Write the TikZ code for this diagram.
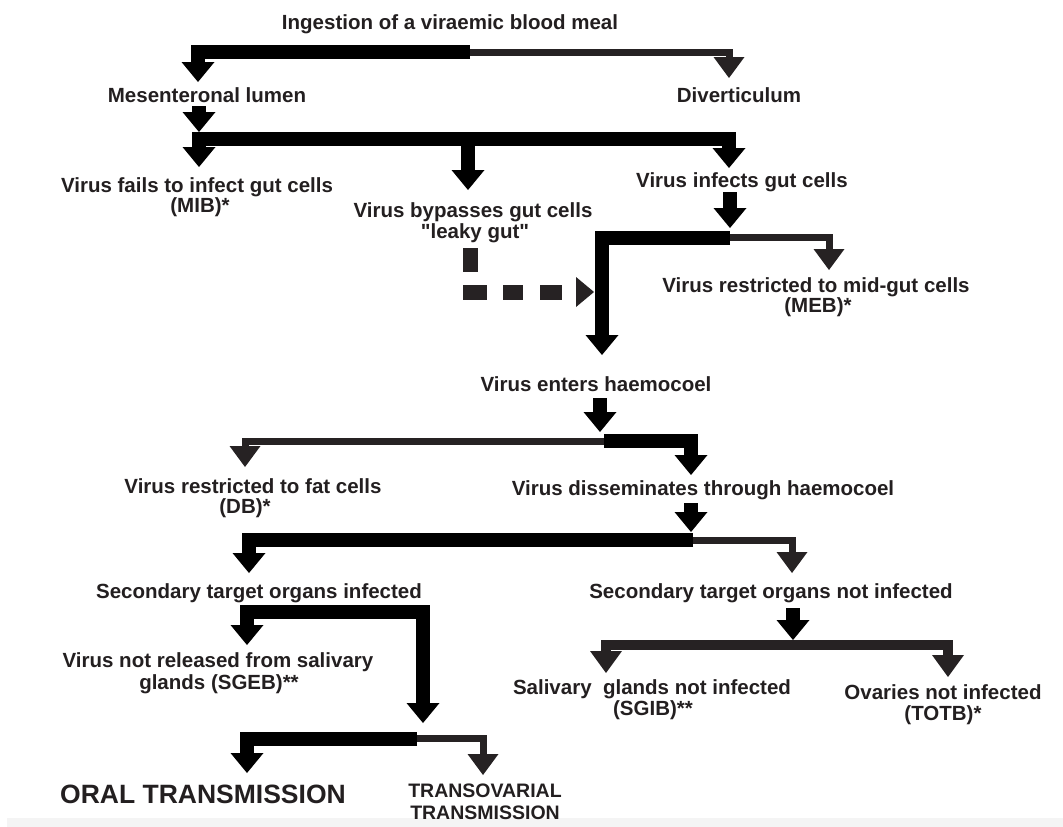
\documentclass[tikz,border=0pt]{standalone}
\usepackage{fontspec}
\setmainfont{Liberation Sans}[Ligatures=TeXOff]
\usetikzlibrary{arrows.meta}
\definecolor{ink}{HTML}{231F20}
\definecolor{dk}{HTML}{262223}
\definecolor{strip}{HTML}{F4F4F4}
\begin{document}
\begin{tikzpicture}[x=1pt,y=-1pt,
  lbl/.style={anchor=base, inner sep=0pt, text=ink, font=\fontsize{20.5}{22}\selectfont\bfseries},
  biglbl/.style={lbl, font=\fontsize{26.5}{28}\selectfont\bfseries},
  caplbl/.style={lbl, font=\fontsize{19.5}{22}\selectfont\bfseries},
  thk/.style={line width=14pt, draw=black, line join=miter, -{Triangle[width=33pt,length=20pt,line width=0pt]}},
  mid/.style={line width=10pt, draw=dk, line join=miter, -{Triangle[width=32pt,length=22pt,line width=0pt]}},
  thn/.style={line width=7pt, draw=dk, line join=miter, -{Triangle[width=31pt,length=21pt,line width=0pt]}},
  dsh/.style={line width=15pt, draw=dk, line join=miter,
    dash pattern=on 24pt off 13pt on 24pt off 16pt on 20pt off 17pt on 22pt off 100pt,
    -{Triangle[width=30pt,length=18pt,line width=0pt]}}
]
\useasboundingbox (0,0) rectangle (1063,827);
\fill[strip] (7,818) rectangle (1063,827);

% ---------- text nodes ----------
\node[lbl] (ingest) at (450,29) {Ingestion of a viraemic blood meal};
\node[lbl] (mes) at (207,102) {Mesenteronal lumen};
\node[lbl] (div) at (739,102) {Diverticulum};
\node[lbl] (fails) at (197,192) {Virus fails to infect gut cells};
\node[lbl] (failsb) at (200,212) {(MIB)*};
\node[lbl] (bypass) at (473,217) {Virus bypasses gut cells};
\node[lbl] (bypassb) at (475,238) {"leaky gut"};
\node[lbl] (infects) at (742,187) {Virus infects gut cells};
\node[lbl] (midgut) at (816,292) {Virus restricted to mid-gut cells};
\node[lbl] (midgutb) at (818,312) {(MEB)*};
\node[lbl] (enters) at (596,391) {Virus enters haemocoel};
\node[lbl] (fat) at (253,493) {Virus restricted to fat cells};
\node[lbl] (fatb) at (245,513) {(DB)*};
\node[lbl] (dissem) at (703,495) {Virus disseminates through haemocoel};
\node[lbl] (secinf) at (259,598) {Secondary target organs infected};
\node[lbl] (secnot) at (771,598) {Secondary target organs not infected};
\node[lbl] (notrel) at (218,667) {Virus not released from salivary};
\node[lbl] (notrelb) at (219,689) {glands (SGEB)**};
\node[lbl] (salnot) at (652,694) {Salivary\ \ glands not infected};
\node[lbl] (salnotb) at (653,715) {(SGIB)**};
\node[lbl] (ovnot) at (943,699) {Ovaries not infected};
\node[lbl] (ovnotb) at (943,720) {(TOTB)*};
\node[biglbl] (oral) at (203,803) {ORAL TRANSMISSION};
\node[caplbl] (transov) at (485,797) {TRANSOVARIAL};
\node[caplbl] (transovb) at (485,819) {TRANSMISSION};

% ---------- junctions and tips ----------
\coordinate (j1) at (470,52);
\coordinate (t1L) at (198,82);
\coordinate (t1R) at (729,78);
\coordinate (m1) at (199,106);
\coordinate (m1t) at (199,132);
\coordinate (j2) at (468,139);
\coordinate (t2L) at (199,167);
\coordinate (t2M) at (468,190);
\coordinate (t2R) at (729,168);
\coordinate (i1) at (730,192);
\coordinate (i1t) at (730,228);
\coordinate (j3) at (730,237.5);
\coordinate (t3L) at (602,355);
\coordinate (t3R) at (829,270);
\coordinate (d1) at (470,248);
\coordinate (d2) at (470,292);
\coordinate (d3) at (594,292);
\coordinate (e1) at (600,398);
\coordinate (e1t) at (600,432);
\coordinate (j4) at (604,441);
\coordinate (t4L) at (245,467);
\coordinate (t4R) at (691,475);
\coordinate (s1) at (691,503);
\coordinate (s1t) at (691,532);
\coordinate (j5) at (693,540);
\coordinate (t5L) at (249,573);
\coordinate (t5R) at (792,573);
\coordinate (j6) at (335,612);
\coordinate (t6L) at (247,645);
\coordinate (t6R) at (423,723);
\coordinate (n1) at (793,608);
\coordinate (n1t) at (793,640);
\coordinate (j7) at (793,645);
\coordinate (t7L) at (606,673);
\coordinate (t7R) at (948,677);
\coordinate (j8) at (417,738.5);
\coordinate (t8L) at (247,773);
\coordinate (t8R) at (483,775);

% ---------- connectors ----------
\draw[thn] (j1) -| (t1R);
\draw[thk] (j1) -| (t1L);
\draw[thk] (m1) -- (m1t);
\draw[thk] (j2) -| (t2L);
\draw[thk] (j2) -| (t2R);
\draw[thk] (j2) -- (t2M);
\draw[thk] (i1) -- (i1t);
\draw[thn] (j3) -| (t3R);
\draw[thk] (j3) -| (t3L);
\draw[dsh] (d1) -- (d2) -- (d3);
\draw[thk] (e1) -- (e1t);
\draw[thn] (j4) -| (t4L);
\draw[thk] (j4) -| (t4R);
\draw[thk] (s1) -- (s1t);
\draw[thn] (j5) -| (t5R);
\draw[thk] (j5) -| (t5L);
\draw[thk] (j6) -| (t6L);
\draw[thk] (j6) -| (t6R);
\draw[thk] (n1) -- (n1t);
\draw[mid] (j7) -| (t7L);
\draw[mid] (j7) -| (t7R);
\draw[thn] (j8) -| (t8R);
\draw[thk] (j8) -| (t8L);
\end{tikzpicture}
\end{document}
